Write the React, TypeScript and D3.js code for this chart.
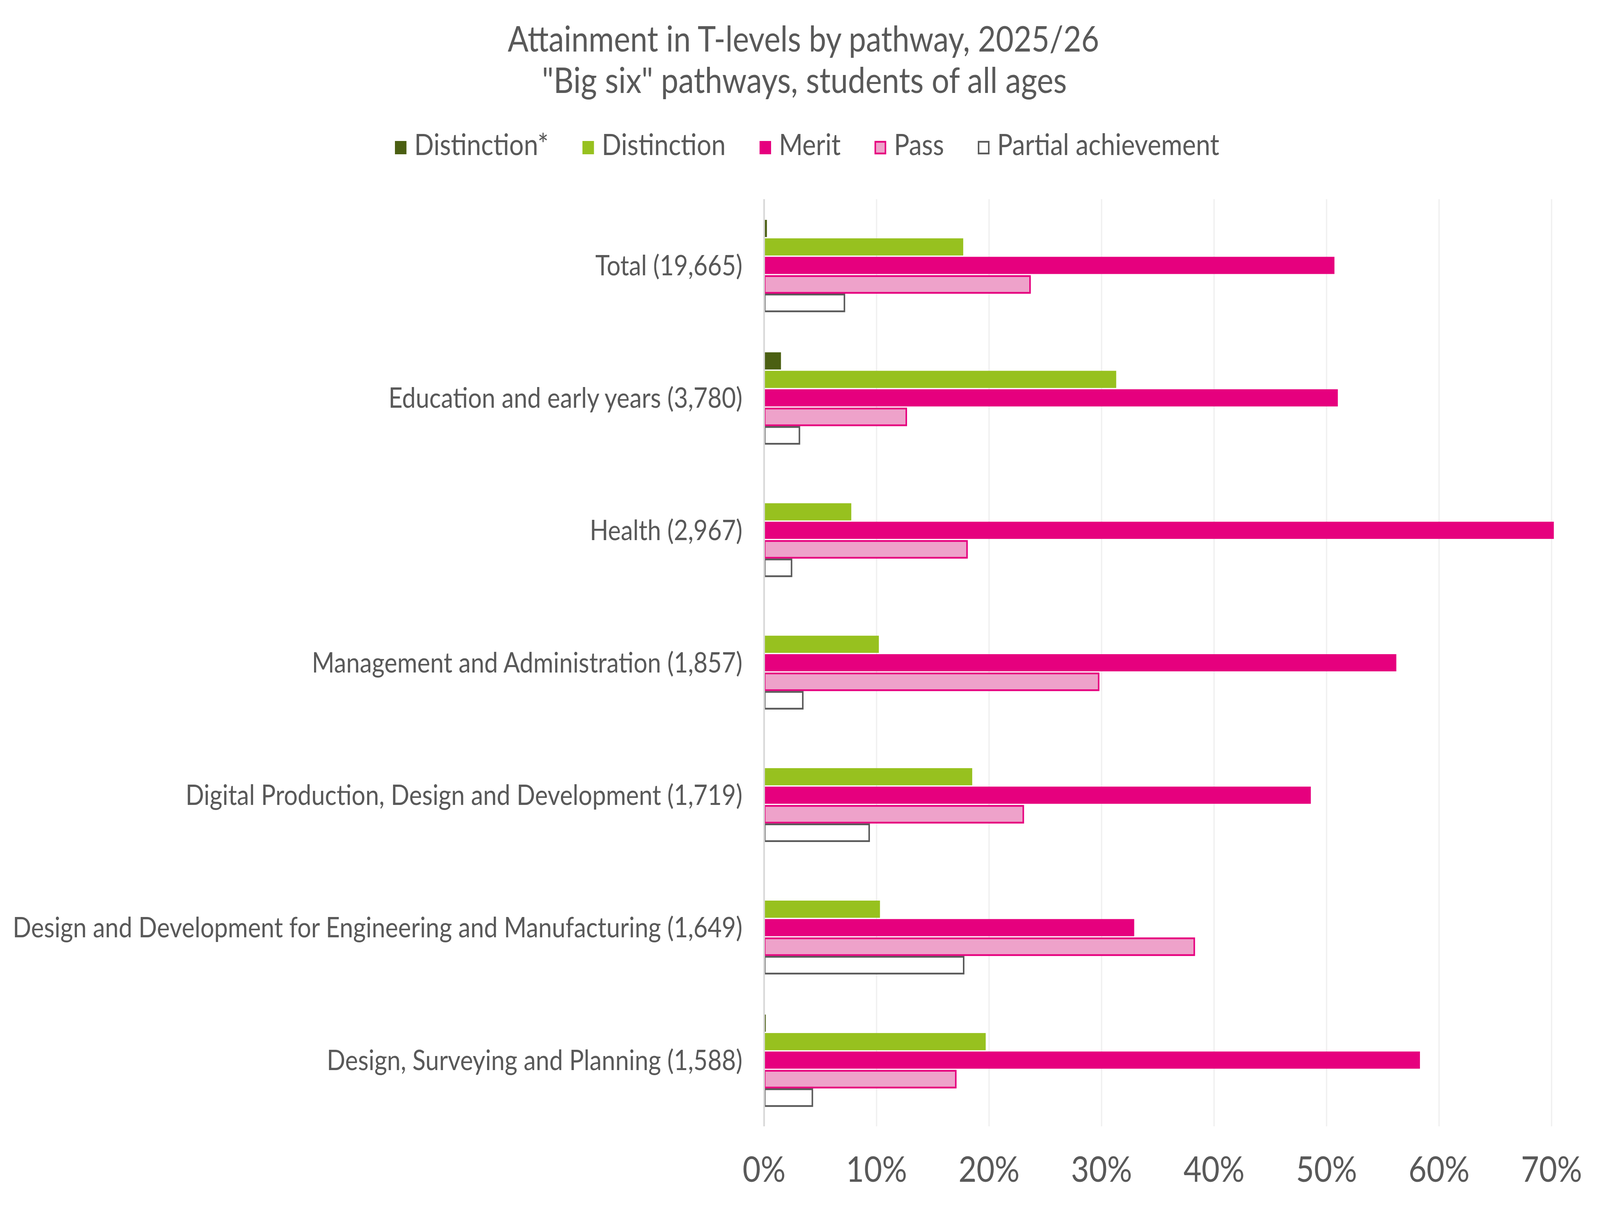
import { useEffect, useRef } from "react";
import * as d3 from "d3";

// Pathways (number of students in brackets)
const categories = [
  "Total (19,665)",
  "Education and early years (3,780)",
  "Health (2,967)",
  "Management and Administration (1,857)",
  "Digital Production, Design and Development (1,719)",
  "Design and Development for Engineering and Manufacturing (1,649)",
  "Design, Surveying and Planning (1,588)",
];

// Percent of students at each grade
const distinctionStar = [0.25, 1.5, 0, 0, 0, 0, 0.15];
const distinction = [17.7, 31.3, 7.75, 10.2, 18.5, 10.3, 19.7];
const merit = [50.7, 51.0, 70.2, 56.2, 48.6, 32.9, 58.3];
const pass = [23.7, 12.7, 18.1, 29.8, 23.1, 38.3, 17.1];
const partial = [7.2, 3.2, 2.5, 3.5, 9.4, 17.8, 4.35];

const seriesNames = ["Distinction*", "Distinction", "Merit", "Pass", "Partial achievement"];
const seriesValues = [distinctionStar, distinction, merit, pass, partial];

const xTicks = [0, 10, 20, 30, 40, 50, 60, 70];

const title = "Attainment in T-levels by pathway, 2025/26";
const subtitle = "\"Big six\" pathways, students of all ages";

const styles = [
  { fill: "#4B5F12", stroke: "none" },
  { fill: "#97C11F", stroke: "none" },
  { fill: "#E6007E", stroke: "none" },
  { fill: "#EEA2CA", stroke: "#E6007E" },
  { fill: "#FFFFFF", stroke: "#595959" },
];

const W = 4724;
const H = 3088;
const FONT = "Lato, 'Noto Sans', sans-serif";
const TEXT = "#595959";

export default function App() {
  const svgRef = useRef<SVGSVGElement>(null);

  useEffect(() => {
    if (!svgRef.current) return;
    const svg = d3.select(svgRef.current);
    svg.selectAll("*").remove();

    const plot = { left: 2256, right: 4581, top: 510, bottom: 2884 };

    const x = d3.scaleLinear().domain([0, 70]).range([plot.left, plot.right]);
    const y0 = d3
      .scaleBand<string>()
      .domain(categories)
      .range([plot.top, plot.bottom])
      .padding(0);
    const y1 = d3
      .scaleBand<string>()
      .domain(seriesNames)
      .range([0, y0.bandwidth()])
      .paddingInner(0.07)
      .paddingOuter(1.12);

    svg.append("rect").attr("width", W).attr("height", H).attr("fill", "#fff");

    // gridlines
    svg
      .append("g")
      .selectAll("line")
      .data(xTicks.slice(1))
      .join("line")
      .attr("x1", (d) => x(d))
      .attr("x2", (d) => x(d))
      .attr("y1", plot.top)
      .attr("y2", plot.bottom)
      .attr("stroke", "#F0F0F0")
      .attr("stroke-width", 4);

    // bars
    const outlined = (j: number) => styles[j].stroke !== "none";
    const groups = svg
      .append("g")
      .selectAll("g")
      .data(categories)
      .join("g")
      .attr("transform", (d) => `translate(0,${y0(d)})`);

    groups
      .selectAll("rect")
      .data((_, i) =>
        seriesNames.map((s, j) => ({ s, j, v: seriesValues[j][i] }))
      )
      .join("rect")
      .filter((d) => d.v > 0)
      .attr("x", (d) => x(0) + (outlined(d.j) ? 2 : 0))
      .attr("y", (d) => (y1(d.s) as number) + (outlined(d.j) ? 2 : 0))
      .attr("width", (d) =>
        Math.max(x(d.v) - x(0) - (outlined(d.j) ? 4 : 0), 2)
      )
      .attr("height", (d) => y1.bandwidth() - (outlined(d.j) ? 1 : 0))
      .attr("fill", (d) => styles[d.j].fill)
      .attr("stroke", (d) => styles[d.j].stroke)
      .attr("stroke-width", 4.5);

    // axis line at 0
    svg
      .append("line")
      .attr("x1", x(0))
      .attr("x2", x(0))
      .attr("y1", plot.top)
      .attr("y2", plot.bottom)
      .attr("stroke", "#D9D9D9")
      .attr("stroke-width", 5);

    // category labels
    svg
      .append("g")
      .selectAll("text")
      .data(categories)
      .join("text")
      .attr("x", plot.left - 64)
      .attr("y", (d) => (y0(d) as number) + y0.bandwidth() / 2)
      .attr("dy", "0.35em")
      .attr("text-anchor", "end")
      .attr("font-family", FONT)
      .attr("font-size", 72)
      .attr("fill", TEXT)
      .text((d) => d);

    // x tick labels
    svg
      .append("g")
      .selectAll("text")
      .data(xTicks)
      .join("text")
      .attr("x", (d) => x(d))
      .attr("y", 3026)
      .attr("text-anchor", "middle")
      .attr("font-family", FONT)
      .attr("font-size", 92)
      .attr("fill", TEXT)
      .text((d) => `${d}%`);

    // titles
    svg
      .append("text")
      .attr("x", 2372)
      .attr("y", 132)
      .attr("text-anchor", "middle")
      .attr("font-family", FONT)
      .attr("font-size", 91)
      .attr("fill", TEXT)
      .text(title);
    svg
      .append("text")
      .attr("x", 2375)
      .attr("y", 238)
      .attr("text-anchor", "middle")
      .attr("font-family", FONT)
      .attr("font-size", 92)
      .attr("fill", TEXT)
      .text(subtitle);

    // legend
    const legend = svg.append("g");
    const sq = 34;
    const gap = 100;
    let cx = 0;
    seriesNames.forEach((name, j) => {
      const item = legend.append("g").attr("transform", `translate(${cx},0)`);
      const st = styles[j];
      const o = st.stroke !== "none";
      item
        .append("rect")
        .attr("x", o ? 2 : 0)
        .attr("y", -sq - 2 + (o ? 2 : 0))
        .attr("width", o ? sq - 4 : sq)
        .attr("height", o ? sq - 4 : sq)
        .attr("fill", st.fill)
        .attr("stroke", st.stroke)
        .attr("stroke-width", 4.5);
      const t = item
        .append("text")
        .attr("x", sq + 23)
        .attr("y", 0)
        .attr("font-family", FONT)
        .attr("font-size", 76)
        .attr("fill", TEXT)
        .text(name);
      const tw = (t.node() as SVGTextElement).getComputedTextLength();
      cx += sq + 23 + tw + gap;
    });
    const total = cx - gap;
    legend.attr("transform", `translate(${2383 - total / 2},397)`);
  }, []);

  return (
    <svg
      ref={svgRef}
      viewBox={`0 0 ${W} ${H}`}
      preserveAspectRatio="none"
      style={{
        position: "absolute",
        left: 0,
        top: 0,
        width: "100vw",
        height: "100vh",
        display: "block",
      }}
    />
  );
}
